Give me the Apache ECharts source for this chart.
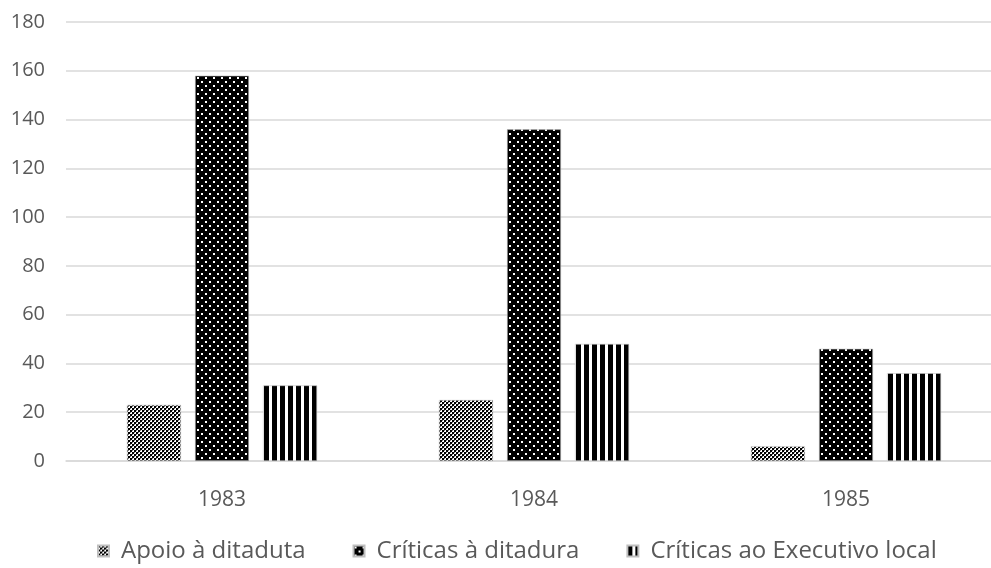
<!DOCTYPE html>
<html>
<head>
<meta charset="utf-8">
<script src="https://cdn.jsdelivr.net/npm/echarts@6/dist/echarts.min.js"></script>
<style>html,body{margin:0;padding:0;background:#fff;overflow:hidden;}#c{width:1002px;height:568px;}</style>
</head>
<body>
<div id="c"></div>
<script>
const categories = ['1983', '1984', '1985'];
const seriesNames = ['Apoio à ditaduta', 'Críticas à ditadura', 'Críticas ao Executivo local'];
const apoio = [23, 25, 6];
const criticasDitadura = [158, 136, 46];
const criticasExecutivo = [31, 48, 36];
const yTicks = [0, 20, 40, 60, 80, 100, 120, 140, 160, 180];

function makeTile(w, h, draw) {
  const c = document.createElement('canvas');
  c.width = w; c.height = h;
  const ctx = c.getContext('2d');
  draw(ctx);
  return c;
}
const checker = makeTile(4, 4, ctx => {
  ctx.fillStyle = '#fff'; ctx.fillRect(0, 0, 4, 4);
  ctx.fillStyle = '#000';
  ctx.fillRect(0, 0, 2, 2); ctx.fillRect(2, 2, 2, 2);
  ctx.fillStyle = '#777';
  ctx.fillRect(2, 0, 1, 1); ctx.fillRect(0, 2, 1, 1);
});
const dots = makeTile(8, 8, ctx => {
  ctx.fillStyle = '#000'; ctx.fillRect(0, 0, 8, 8);
  ctx.fillStyle = '#fff';
  ctx.fillRect(1, 1, 2, 2); ctx.fillRect(5, 5, 2, 2);
});
const stripes = makeTile(8, 1, ctx => {
  ctx.fillStyle = '#fff'; ctx.fillRect(0, 0, 8, 1);
  ctx.fillStyle = '#000'; ctx.fillRect(0, 0, 5, 1);
});
const patterns = [checker, dots, stripes];
const dataSets = [apoio, criticasDitadura, criticasExecutivo];

const chart = echarts.init(document.getElementById('c'));
const font = '"Open Sans", "Noto Sans", sans-serif';
chart.setOption({
  animation: false,
  textStyle: { fontFamily: font },
  grid: { left: 66, top: 22, right: 0, bottom: 107, containLabel: false },
  legend: {
    bottom: 0,
    left: 92,
    itemWidth: 11,
    itemHeight: 11,
    itemGap: 47,
    icon: 'rect',
    textStyle: { color: '#595959', fontSize: 24, fontFamily: font, padding: [0, 0, 0, 7] },
    data: seriesNames
  },
  xAxis: {
    type: 'category',
    data: categories,
    axisLine: { lineStyle: { color: '#d9d9d9', width: 1.5 } },
    axisTick: { show: false },
    axisLabel: { color: '#595959', fontSize: 21, margin: 29 }
  },
  yAxis: {
    type: 'value',
    min: yTicks[0],
    max: yTicks[yTicks.length - 1],
    interval: 20,
    axisLine: { show: false },
    axisTick: { show: false },
    splitLine: { lineStyle: { color: '#d9d9d9', width: 1.5 } },
    axisLabel: { color: '#595959', fontSize: 20, margin: 21 }
  },
  series: seriesNames.map((name, i) => ({
    name: name,
    type: 'bar',
    data: dataSets[i],
    barWidth: 54,
    barGap: '26%',
    itemStyle: {
      color: { image: patterns[i], repeat: 'repeat' },
      borderColor: '#bfbfbf',
      borderWidth: 0.6
    }
  }))
});
</script>
</body>
</html>
